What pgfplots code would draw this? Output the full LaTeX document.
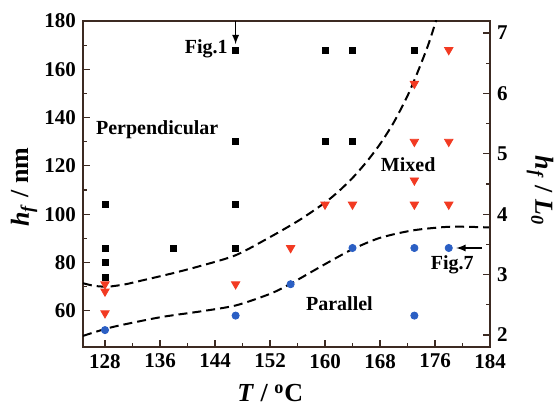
\documentclass[border=0pt]{standalone}
\usepackage{fontspec}
\setmainfont{Liberation Serif}
\usepackage{pgfplots}
\pgfplotsset{compat=1.18}
\definecolor{axiscol}{HTML}{3C2A22}
\definecolor{tri}{HTML}{F23A22}
\definecolor{dot}{HTML}{2B5FC4}
\begin{document}
\begin{tikzpicture}[font=\fontsize{10}{12}\selectfont\bfseries]
\begin{axis}[
  at={(0pt,0pt)}, anchor=south west,
  scale only axis, width=203.5pt, height=163pt,
  xmin=124.8, xmax=184, ymin=45, ymax=180,
  xtick={128,136,...,184}, ytick={60,80,...,180},
  minor x tick num=1, minor y tick num=1,
  xtick pos=lower, ytick pos=left,
  tick align=inside,
  major tick length=3.5pt, minor tick length=2pt,
  axis line style={axiscol, line width=0.8pt},
  tick style={axiscol, line width=0.6pt},
  /pgf/number format/assume math mode=true,
  tick label style={font=\fontsize{10.5}{12}\selectfont\bfseries, text=black},
  label style={font=\fontsize{13}{15}\selectfont\bfseries},
  xlabel={\textit{T} / \textsuperscript{o}C},
  xlabel style={at={(axis description cs:0.46,-0.168)}, anchor=base},
  ylabel={\textit{h}\textsubscript{\textit{f}} / nm},
  ylabel style={at={(axis description cs:-0.145,0.49)}, anchor=center},
  clip=true,
]
% dashed boundaries
\addplot[black, line width=1pt, dash pattern=on 4.5pt off 2.5pt, smooth, tension=0.45] coordinates {
 (124.8,71.4) (126.5,70.3) (128.5,70.0) (131,71.0) (133,72.3) (137.5,75.3) (141.8,78.5) (147,83) (152,90.5) (156.3,97.6) (160,104.8) (162,109.5) (164,115) (166,121.5) (168,129) (170,138) (172,149) (173.5,159) (175,170) (176.1,179.7) (176.5,184)
};
\addplot[black, line width=1pt, dash pattern=on 4.5pt off 2.5pt, smooth, tension=0.45] coordinates {
 (124.8,49.6) (129,53.2) (136,57.3) (141.8,59.7) (147,62.2) (152,67) (155,71.2) (160,79.3) (164,85.5) (168,90.2) (172.8,93.3) (178.2,94.8) (184,94.5)
};
% perpendicular
\addplot[only marks, mark=square*, mark size=1.5pt, black] coordinates {
 (128,104) (128,86) (128,80) (128,74) (138,86)
 (147,168) (147,130) (147,104) (147,86)
 (160,168) (160,130) (164,168) (164,130) (173,168)
};
% mixed
\addplot[only marks, mark=triangle*, mark size=2.4pt, tri, mark options={rotate=180, draw=tri, fill=tri}] coordinates {
 (128,71) (128,68) (128,59) (147,71) (155,86) (160,104) (164,104)
 (173,104) (173,114) (173,130) (173,154) (178,168) (178,130) (178,104)
};
% parallel
\addplot[only marks, mark=*, mark size=1.8pt, dot, mark options={draw=dot, fill=dot}] coordinates {
 (128,52) (147,58) (155,71) (164,86) (173,86) (173,58) (178,86)
};
\node at (axis cs:135.6,134.9) {Perpendicular};
\node at (axis cs:172.1,120.4) {Mixed};
\node at (axis cs:162.1,63.1) {Parallel};
\node[anchor=east, inner sep=1pt] at (axis cs:146.2,168.5) {Fig.1};
\node at (axis cs:178.5,79) {Fig.7};
\draw[-latex, black, line width=0.6pt] (axis cs:147,180) -- (axis cs:147,170.4);
\draw[-latex, black, line width=0.6pt] (axis cs:182.8,86) -- (axis cs:179.1,86);
\end{axis}
\begin{axis}[
  at={(0pt,0pt)}, anchor=south west,
  scale only axis, width=203.5pt, height=163pt,
  xmin=124.8, xmax=184, ymin=1.8, ymax=7.2,
  axis x line=none, axis y line*=right,
  ytick={2,...,7}, minor y tick num=1,
  tick align=inside,
  major tick length=3.5pt, minor tick length=2pt,
  axis line style={axiscol, line width=0.8pt, -},
  tick style={axiscol, line width=0.6pt},
  /pgf/number format/assume math mode=true,
  tick label style={font=\fontsize{10.5}{12}\selectfont\bfseries, text=black},
  label style={font=\fontsize{13}{15}\selectfont\bfseries},
  ylabel={\textit{h}\textsubscript{\textit{f}} / \textit{L}\textsubscript{\textit{0}}},
  ylabel style={at={(axis description cs:1.123,0.48)}, anchor=center, rotate=180},
]
\addplot[draw=none] coordinates {(130,3)};
\end{axis}
\pgfresetboundingbox
\path[use as bounding box] (-41.5pt,-30pt) rectangle (237pt,173.5pt);
\end{tikzpicture}
\end{document}
